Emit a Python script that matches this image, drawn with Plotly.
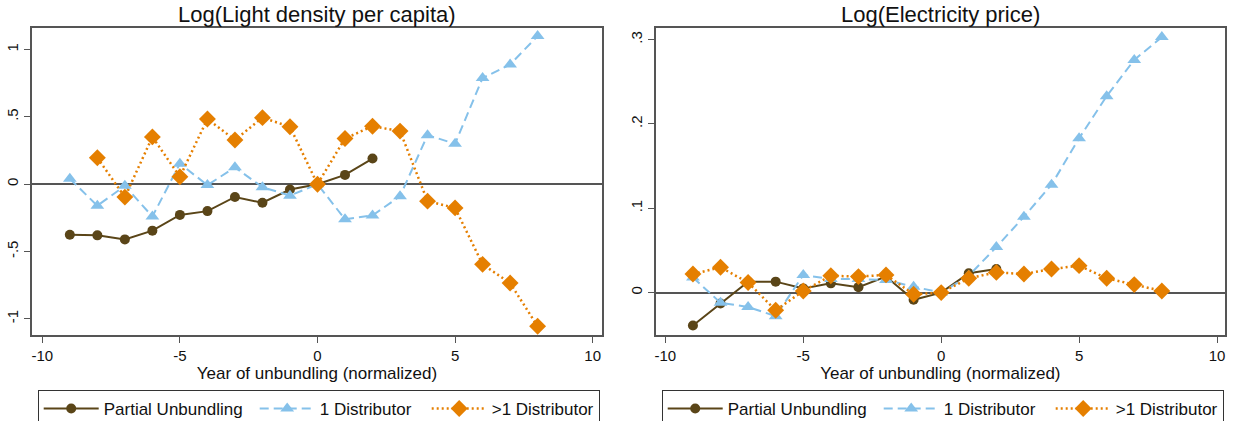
import plotly.graph_objects as go

# ---------------- data ----------------
years_full = list(range(-9, 9))          # -9 .. 8
years_partial = list(range(-9, 3))       # -9 .. 2
years_multi_left = list(range(-8, 9))    # -8 .. 8

# Left panel: Log(Light density per capita)
light_partial = [-0.375, -0.380, -0.410, -0.345, -0.228, -0.200, -0.095, -0.138, -0.040, 0.0, 0.069, 0.190]
light_one = [0.040, -0.160, -0.012, -0.240, 0.152, -0.007, 0.125, -0.022, -0.085, 0.0,
             -0.260, -0.232, -0.089, 0.364, 0.300, 0.788, 0.888, 1.100]
light_multi = [0.196, -0.096, 0.351, 0.055, 0.484, 0.328, 0.494, 0.426, 0.0,
               0.339, 0.430, 0.394, -0.126, -0.176, -0.595, -0.734, -1.055]

# Right panel: Log(Electricity price)
price_partial = [-0.039, -0.013, 0.013, 0.013, 0.005, 0.011, 0.0065, 0.019, -0.0085, 0.0, 0.023, 0.028]
price_one = [0.018, -0.012, -0.017, -0.028, 0.021, 0.016, 0.016, 0.015, 0.007, 0.0,
             0.020, 0.054, 0.090, 0.128, 0.183, 0.233, 0.276, 0.303]
price_multi = [0.022, 0.030, 0.012, -0.021, 0.002, 0.020, 0.019, 0.021, -0.002, 0.0,
               0.017, 0.024, 0.022, 0.028, 0.032, 0.017, 0.0095, 0.002]

series_names = ["Partial Unbundling", "1 Distributor", ">1 Distributor"]
titles = ["Log(Light density per capita)", "Log(Electricity price)"]
x_title = "Year of unbundling (normalized)"
x_ticks = [-10, -5, 0, 5, 10]
x_ticktext = ["-10", "-5", "0", "5", "10"]
left_yticks = [-1, -0.5, 0, 0.5, 1]
left_yticktext = ["-1", "-.5", "0", ".5", "1"]
right_yticks = [0, 0.1, 0.2, 0.3]
right_yticktext = ["0", ".1", ".2", ".3"]

# ---------------- styles ----------------
FONT = "Liberation Sans, Arial, sans-serif"
C_BROWN = "#5a4518"
C_BLUE = "#85c1ea"
C_ORANGE = "#e57f00"
AXC = "#555555"

fig = go.Figure()

def add_panel(xa, ya, legend, xp, yp, xo, yo, xm, ym):
    fig.add_trace(go.Scatter(
        x=xp, y=yp, name=series_names[0], mode="lines+markers", xaxis=xa, yaxis=ya, legend=legend,
        legendwidth=146,
        line=dict(color=C_BROWN, width=2),
        marker=dict(symbol="circle", size=10, color=C_BROWN)))
    fig.add_trace(go.Scatter(
        x=xo, y=yo, name=series_names[1], mode="lines+markers", xaxis=xa, yaxis=ya, legend=legend,
        legendwidth=102,
        line=dict(color=C_BLUE, width=2, dash="9px,5px"),
        marker=dict(symbol="triangle-up", size=12, color=C_BLUE)))
    fig.add_trace(go.Scatter(
        x=xm, y=ym, name=series_names[2], mode="lines+markers", xaxis=xa, yaxis=ya, legend=legend,
        line=dict(color=C_ORANGE, width=2.5, dash="2px,3px"),
        marker=dict(symbol="diamond", size=13, color=C_ORANGE)))

add_panel("x", "y", "legend", years_partial, light_partial, years_full, light_one,
          years_multi_left, light_multi)
add_panel("x2", "y2", "legend2", years_partial, price_partial, years_full, price_one,
          years_full, price_multi)

W, H = 1233, 421
def px_x(p):
    return p / W
def px_y(p):
    return 1 - p / H

axis_common = dict(
    showline=True, mirror=True, linecolor=AXC, linewidth=1.5,
    ticks="outside", ticklen=6, tickwidth=1.2, tickcolor=AXC,
    showgrid=False, automargin=False,
    tickfont=dict(family=FONT, size=15, color="#111111"),
)

fig.update_layout(
    width=W, height=H,
    margin=dict(l=0, r=0, t=0, b=0, autoexpand=False),
    paper_bgcolor="white", plot_bgcolor="white",
    font=dict(family=FONT, color="#111111"),
    showlegend=True,
    xaxis=dict(domain=[px_x(32), px_x(602)], range=[-10.375, 10.34], anchor="y",
               tickvals=x_ticks, ticktext=x_ticktext, zeroline=False,
               title=dict(text=x_title, font=dict(family=FONT, size=17), standoff=2),
               **axis_common),
    yaxis=dict(domain=[px_y(335.2), px_y(27.5)], range=[-1.121, 1.163], anchor="x",
               tickvals=left_yticks, ticktext=left_yticktext, tickangle=-90,
               zeroline=True, zerolinecolor=AXC, zerolinewidth=1.5,
               **axis_common),
    xaxis2=dict(domain=[px_x(655.7), px_x(1225)], range=[-10.35, 10.29], anchor="y2",
                tickvals=x_ticks, ticktext=x_ticktext, zeroline=False,
                title=dict(text=x_title, font=dict(family=FONT, size=17), standoff=2),
                **axis_common),
    yaxis2=dict(domain=[px_y(335.2), px_y(27.5)], range=[-0.0505, 0.3144], anchor="x2",
                tickvals=right_yticks, ticktext=right_yticktext, tickangle=-90,
                zeroline=True, zerolinecolor=AXC, zerolinewidth=1.5,
                **axis_common),
    legend=dict(orientation="h", x=px_x(37.7), y=px_y(390), xanchor="left", yanchor="top",
                bordercolor="#333333", borderwidth=1, itemwidth=55,
                font=dict(family=FONT, size=17, color="#111111"), bgcolor="white"),
    legend2=dict(orientation="h", x=px_x(661.7), y=px_y(390), xanchor="left", yanchor="top",
                 bordercolor="#333333", borderwidth=1, itemwidth=55,
                 font=dict(family=FONT, size=17, color="#111111"), bgcolor="white"),
    annotations=[
        dict(text=titles[0], x=(px_x(32) + px_x(602)) / 2, y=px_y(14), xref="paper", yref="paper",
             xanchor="center", yanchor="middle", showarrow=False,
             font=dict(family=FONT, size=22, color="#111111")),
        dict(text=titles[1], x=(px_x(655.7) + px_x(1225)) / 2, y=px_y(14), xref="paper", yref="paper",
             xanchor="center", yanchor="middle", showarrow=False,
             font=dict(family=FONT, size=22, color="#111111")),
    ],
)

fig.write_html(
    "out.html",
    config={"displayModeBar": False},
    post_script="document.body.style.margin='0';document.body.style.overflow='hidden';",
)
